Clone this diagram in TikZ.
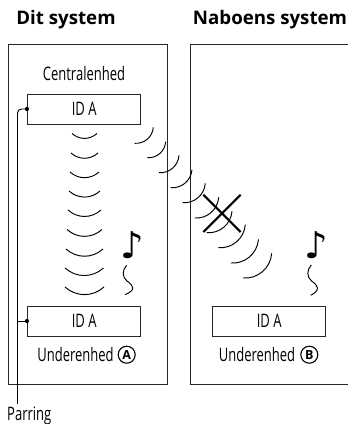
\documentclass[tikz,border=0pt]{standalone}
\usepackage{fontspec}
\setmainfont{Open Sans}[FakeStretch=0.7]
\newfontfamily\headfont{Open Sans}
\newfontfamily\notefont{DejaVu Sans}
\usetikzlibrary{positioning}

\begin{document}
\begin{tikzpicture}[x=1pt,y=-1pt,
  frame/.style={draw=black!85,line width=1pt},
  idbox/.style={draw=black!85,line width=1pt,fill=white,minimum width=113.5pt,minimum height=30pt,font=\fontsize{18.6}{18.6}\selectfont},
  caption/.style={font=\fontsize{18.6}{18.6}\selectfont},
  heading/.style={font=\headfont\bfseries\fontsize{18.7}{18.7}\selectfont},
  unit/.style={circle,draw=black,line width=1.1pt,minimum size=17pt,inner sep=0pt,font=\headfont\bfseries\fontsize{12.5}{12.5}\selectfont},
  wave/.style={black,line width=0.95pt},
  melody/.style={font=\notefont\fontsize{37}{37}\selectfont},
  wire/.style={black,line width=0.95pt}]
\tikzstyle{every node}+=[inner sep=0pt]
\useasboundingbox (0,0) rectangle (348,424);
\draw [frame] (8.7,44.5) rectangle (167.5,384.5);
\draw [frame] (348,44.5) -- (190,44.5) -- (190,384.5) -- (348,384.5);
\node [heading] (headA) at (66,20) {Dit system};
\node [heading] (headB) at (270,20) {Naboens system};
\node [caption] (central) at (84,73.5) {Centralenhed};
\node [idbox] (idtop) at (84.2,109) {ID A};
\node [idbox] (idlow) at (84.2,321) {ID A};
\node [idbox] (idneighbour) at (269.2,321) {ID A};
\node [caption] (underA) at (75.5,355) {Underenhed};
\node [unit] (markA) at (126.7,354.7) {A};
\node [caption] (underB) at (257,355) {Underenhed};
\node [unit] (markB) at (309.3,354.7) {B};
\node [caption,anchor=west] (parring) at (7,416) {Parring};
% waves inside the system
\draw [wave] (72,133.5) to [bend right=42] (97,133.5);
\draw [wave] (71,153) to [bend right=42] (98,153);
\draw [wave] (70,172) to [bend right=42] (99,172);
\draw [wave] (69,191) to [bend right=42] (100,191);
\draw [wave] (68,210) to [bend right=42] (101,210);
\draw [wave] (67,229.5) to [bend right=42] (102,229.5);
\draw [wave] (66,249) to [bend right=42] (103,249);
\draw [wave] (65,268) to [bend right=42] (103.5,268);
\draw [wave] (65,287) to [bend right=42] (104,287);
% waves towards the neighbour
\draw [wave] (134.7,143.3) to [bend right=45] (153.3,127.3);
\draw [wave] (147.3,157.7) to [bend right=45] (165.7,141.7);
\draw [wave] (159,172.7) to [bend right=45] (179,155.3);
\draw [wave] (170.7,187.7) to [bend right=45] (192,169.7);
\draw [wave] (182.7,202.7) to [bend right=45] (205.3,183.3);
\draw [wave] (194.7,218) to [bend right=45] (218.7,197.3);
\draw [wave] (206.7,232.7) to [bend right=45] (232,211.3);
\draw [wave] (218.5,247.7) to [bend right=45] (245.3,224.7);
\draw [wave] (230.7,263) to [bend right=45] (258.5,239.3);
\draw [wave] (243,278) to [bend right=45] (271.7,253.3);
% blocked
\draw [black,line width=2.2pt] (203.3,194.7) -- (240.7,232);
\draw [black,line width=2.2pt] (240.7,194.7) -- (203.3,232);
% notes
\node [melody] (noteA) at (132,245) {♪};
\node [melody] (noteB) at (316.7,245) {♪};
\draw [wave] (126.7,265.3) .. controls (122,270) and (122,277) .. (127,281) .. controls (134,286) and (136,290) .. (125,294.7);
\draw [wave] (311.3,265) .. controls (306.6,270) and (306.6,277) .. (311.6,281) .. controls (318.6,286) and (320.6,290) .. (310.7,295.3);
% pairing wire
\coordinate (foot) at (17.5,404);
\coordinate (join) at (17.5,321);
\draw [wire,rounded corners=4pt] (foot) |- (idtop.west);
\draw [wire] (join) -- (idlow.west);
\fill [black] (idtop.west) circle (2.1);
\fill [black] (idlow.west) circle (2.1);
\end{tikzpicture}
\end{document}
